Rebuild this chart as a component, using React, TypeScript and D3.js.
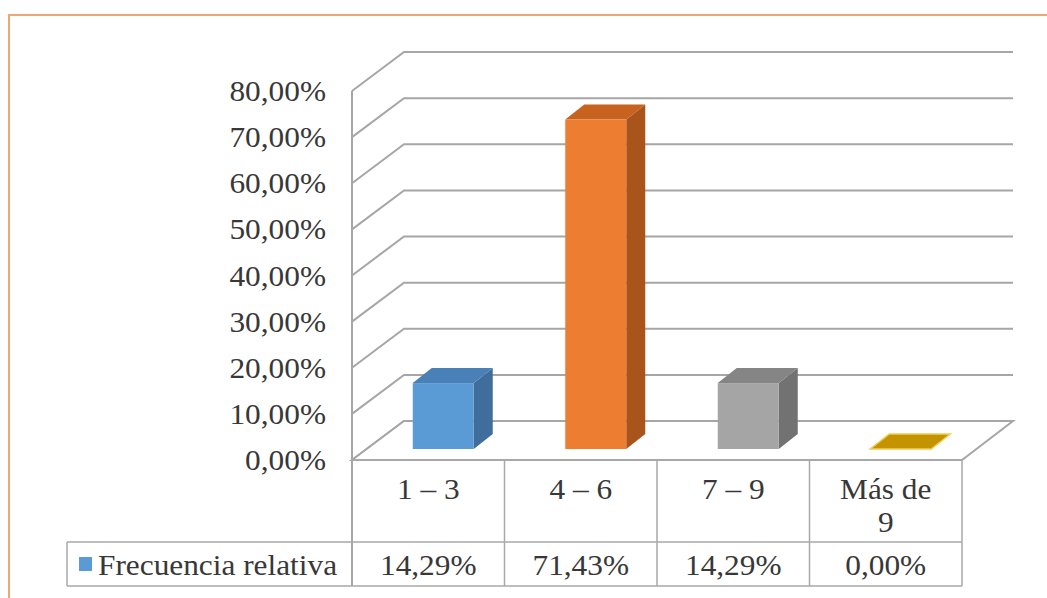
import React from "react";
import * as d3 from "d3";

// Chart data
const categories = ["1 – 3", "4 – 6", "7 – 9", "Más de 9"];
const values = [0.1429, 0.7143, 0.1429, 0.0];
const seriesName = "Frecuencia relativa";
const yTicks = [0, 0.1, 0.2, 0.3, 0.4, 0.5, 0.6, 0.7, 0.8];

// Per-category fills: front, top, side
const frontColors = ["#5B9BD5", "#ED7D31", "#A5A5A5", "#C49400"];
const topColors = ["#4A80B8", "#C8621F", "#858585", "#C49400"];
const sideColors = ["#3F6E9C", "#A9541B", "#727272", "#A67C00"];

const W = 1047;
const H = 598;

const esLocale = d3.formatLocale({
  decimal: ",",
  thousands: ".",
  grouping: [3],
  currency: ["", " €"],
});
const pct = esLocale.format(".2%");

const FONT = "'Liberation Serif', 'Times New Roman', serif";
const FS = 29;
const SX = 1.08;
const TEXT_FILL = "#383838";
const GRID = "#A6A6A6";
const TABLE = "#A8A8A8";

// Plot geometry (front plane)
const plotLeft = 352;
const plotRight = 962;
const floorY = 460;
const topY = 91;
// Full depth of the chart box
const DX = 52;
const DY = 39;
// Depth slice occupied by the bars
const FDX = 15;
const FDY = 11;
const BDX = 34;
const BDY = 26;

const rowTop = floorY;
const rowMid = 542;
const rowBottom = 586;
const legendLeft = 67;

function Txt(props: {
  x: number;
  y: number;
  anchor?: string;
  children: React.ReactNode;
}) {
  return (
    <text
      transform={`translate(${props.x},${props.y}) scale(${SX},1)`}
      textAnchor={props.anchor || "middle"}
      fontFamily={FONT}
      fontSize={FS}
      fill={TEXT_FILL}
    >
      {props.children}
    </text>
  );
}

function wrapLabel(s: string): string[] {
  if (s.length <= 6) return [s];
  const i = s.lastIndexOf(" ");
  return [s.slice(0, i), s.slice(i + 1)];
}

export default function App() {
  const y = d3.scaleLinear().domain([0, 0.8]).range([floorY, topY]);
  const x = d3
    .scaleBand<string>()
    .domain(categories)
    .range([plotLeft, plotRight])
    .paddingInner(0)
    .paddingOuter(0);
  const bw = x.bandwidth();
  const barW = bw * 0.4;

  const pts = (arr: [number, number][]) => arr.map((p) => p.join(",")).join(" ");

  return (
    <svg
      width={W}
      height={H}
      style={{ position: "fixed", left: 0, top: 0, background: "#ffffff" }}
    >
      {/* outer chart frame */}
      <rect x={0} y={0} width={W} height={H} fill="#FDFEFF" />
      <rect
        x={9}
        y={15}
        width={W + 20}
        height={H + 20}
        fill="#ffffff"
        stroke="#F0A872"
        strokeWidth={2}
      />

      {/* walls: gridlines running along side wall and back wall */}
      {yTicks.map((t) => {
        const yf = y(t);
        return (
          <polyline
            key={"g" + t}
            points={pts([
              [plotLeft, yf],
              [plotLeft + DX, yf - DY],
              [plotRight + DX - 1, yf - DY],
            ])}
            fill="none"
            stroke={GRID}
            strokeWidth={2}
          />
        );
      })}

      {/* floor */}
      <polygon
        points={pts([
          [plotLeft, floorY],
          [plotRight, floorY],
          [plotRight + DX - 1, floorY - DY],
          [plotLeft + DX, floorY - DY],
        ])}
        fill="#ffffff"
        stroke={GRID}
        strokeWidth={2}
      />

      {/* value axis line */}
      <line
        x1={plotLeft}
        x2={plotLeft}
        y1={y(0.8)}
        y2={rowBottom}
        stroke={GRID}
        strokeWidth={2}
      />

      {/* y tick labels */}
      {yTicks.map((t) => (
        <Txt key={"yl" + t} x={326} y={y(t) + 10} anchor="end">
          {pct(t)}
        </Txt>
      ))}

      {/* 3D bars */}
      {categories.map((c, i) => {
        const x0 = (x(c) as number) + (bw - barW) / 2;
        const h = y(0) - y(values[i]);
        const fb = floorY - FDY; // front bottom
        const ft = fb - h; // front top
        const ddx = BDX - FDX;
        const ddy = BDY - FDY;
        const fl = x0 + FDX;
        const fr = fl + barW;
        return (
          <g key={"b" + c}>
            {h > 0 && (
              <polygon
                points={pts([
                  [fr, ft],
                  [fr + ddx, ft - ddy],
                  [fr + ddx, fb - ddy],
                  [fr, fb],
                ])}
                fill={sideColors[i]}
              />
            )}
            <polygon
              points={pts([
                [fl, ft],
                [fr, ft],
                [fr + ddx, ft - ddy],
                [fl + ddx, ft - ddy],
              ])}
              fill={topColors[i]}
              stroke={h > 0 ? "none" : "#F2CC55"}
              strokeWidth={1.5}
            />
            {h > 0 && (
              <rect x={fl} y={ft} width={barW} height={h} fill={frontColors[i]} />
            )}
          </g>
        );
      })}

      {/* data table */}
      <line x1={plotLeft} x2={plotRight} y1={rowTop} y2={rowTop} stroke={TABLE} strokeWidth={2} />
      <line x1={legendLeft} x2={plotRight} y1={rowMid} y2={rowMid} stroke={TABLE} strokeWidth={1.5} />
      <line x1={legendLeft} x2={plotRight} y1={rowBottom} y2={rowBottom} stroke={TABLE} strokeWidth={1.5} />
      <line x1={legendLeft} x2={legendLeft} y1={rowMid} y2={rowBottom} stroke={TABLE} strokeWidth={1.5} />
      {categories.map((c) => (
        <line
          key={"v" + c}
          x1={(x(c) as number) + bw}
          x2={(x(c) as number) + bw}
          y1={rowTop}
          y2={rowBottom}
          stroke={TABLE}
          strokeWidth={1.5}
        />
      ))}

      {categories.map((c) => {
        const lines = wrapLabel(c);
        const cx = (x(c) as number) + bw / 2;
        return (
          <g key={"cl" + c}>
            {lines.map((ln, k) => (
              <Txt key={k} x={cx} y={499 + k * 33}>
                {ln}
              </Txt>
            ))}
          </g>
        );
      })}

      {values.map((v, i) => (
        <Txt key={"vl" + i} x={(x(categories[i]) as number) + bw / 2} y={575}>
          {pct(v)}
        </Txt>
      ))}

      {/* legend key */}
      <rect x={79} y={557} width={13} height={14} fill={frontColors[0]} />
      <Txt x={98} y={575} anchor="start">
        {seriesName}
      </Txt>
    </svg>
  );
}
